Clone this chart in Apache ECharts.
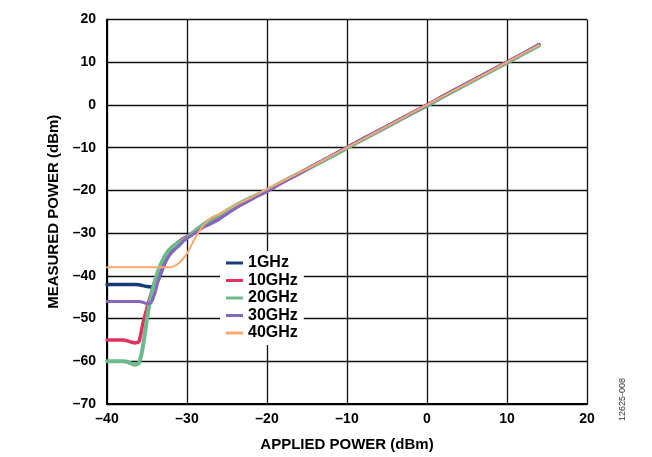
<!DOCTYPE html>
<html><head><meta charset="utf-8">
<script src="https://cdn.jsdelivr.net/npm/echarts@6/dist/echarts.min.js"></script>
<style>html,body{margin:0;padding:0;background:#fff}#c{width:652px;height:457px}</style>
</head><body><div id="c"></div>
<script>
const xVals = [-40,-39,-38,-37.5,-37,-36.5,-36,-35.5,-35,-34.5,-34,-33.5,-33,-32.5,-32,-31.5,-31,-30.5,-30,-29,-28,-27,-26,-25,-24,-23,-22,-21,-20,-18,-16,-14,-12,-10,-8,-6,-4,-2,0,2,4,6,8,10,12,14];
const ghz1  = [-42,-42,-42,-42,-42,-42,-42.1,-42.3,-42.5,-42.6,-42.2,-40.5,-38,-35.8,-34,-32.9,-32.1,-31.5,-31,-29.8,-28.5,-27.5,-26.5,-25.2,-24.1,-23,-22,-21,-20.1,-18,-16.1,-14,-12.1,-10,-7.9,-6.1,-4,-2,-0.1,2,4,6,8,10,12,14.1];
const ghz10 = [-55,-55,-55,-55.2,-55.5,-55.7,-55.4,-51,-47.5,-44.3,-41.2,-38.8,-36.6,-34.9,-33.6,-32.7,-32,-31.3,-30.8,-29.6,-28.3,-27.3,-26.4,-25.1,-24,-23,-22,-21,-20,-18,-16,-14,-12,-10,-8,-6,-4,-2,0,2,4,6,8,10,12,14];
const ghz20 = [-60,-60,-60,-60.1,-60.5,-60.8,-60.4,-56.5,-50,-44.8,-41.2,-38.3,-36.2,-34.6,-33.5,-32.8,-32.2,-31.6,-31,-29.5,-28,-26.8,-25.8,-24.7,-23.6,-22.6,-21.7,-20.8,-19.9,-17.9,-16,-14.1,-12.1,-10.1,-8.1,-6.1,-4.1,-2.1,-0.2,1.9,3.9,5.9,7.9,9.9,11.9,13.9];
const ghz30 = [-46,-46,-46,-46,-46,-46,-46,-46.2,-46.5,-46.3,-44,-40.5,-38,-36.1,-34.8,-33.8,-33,-32,-31.2,-30,-28.7,-27.8,-26.8,-25.5,-24.3,-23.2,-22.2,-21.2,-20.3,-18.1,-16.1,-14,-11.9,-9.9,-7.9,-5.9,-4,-2,0,2.1,4.1,6.1,8.1,10.1,12.1,14.2];
const ghz40 = [-38,-38,-38,-38,-38,-38,-38,-38,-38,-38,-38,-38,-38,-38,-38,-37.6,-37,-36,-34.8,-31.2,-28.3,-26.4,-25.6,-24.5,-23.5,-22.6,-21.7,-20.7,-19.7,-17.8,-15.9,-14,-12,-10,-8,-6,-4,-2,0,2,4,6,8,10,12,14];
const seriesNames = ['1GHz','10GHz','20GHz','30GHz','40GHz'];
const seriesData = [ghz1, ghz10, ghz20, ghz30, ghz40];
const colors = ['#173a7a','#e0325d','#6cbb8c','#8567bf','#f9a870'];
const widths = [3.5,3.5,4,3,2];

const font = '"Liberation Sans", Arial, sans-serif';
const dash = v => String(v).replace('-', '\u2013');
const chart = echarts.init(document.getElementById('c'));
chart.setOption({
  animation: false,
  grid: {left: 107, right: 65, top: 19.5, bottom: 52},
  legend: {
    orient: 'vertical', left: 220, top: 251,
    backgroundColor: '#fff', padding: [4, 6],
    icon: 'rect', itemWidth: 17, itemHeight: 3, itemGap: 1.5,
    textStyle: {fontFamily: font, fontWeight: 'bold', fontSize: 16, color: '#000', lineHeight: 14},
    data: seriesNames
  },
  xAxis: {
    type: 'value', min: -40, max: 20, interval: 10,
    name: 'APPLIED POWER (dBm)', nameLocation: 'middle', nameGap: 33,
    nameTextStyle: {fontFamily: font, fontWeight: 'bold', fontSize: 15, color: '#000'},
    axisLine: {show: true, onZero: false, lineStyle: {color: '#000', width: 2}},
    axisTick: {show: false},
    axisLabel: {fontFamily: font, fontWeight: 'bold', fontSize: 14, color: '#000', margin: 8, formatter: dash},
    splitLine: {show: true, lineStyle: {color: '#111', width: 1.3}}
  },
  yAxis: {
    type: 'value', min: -70, max: 20, interval: 10,
    name: 'MEASURED POWER (dBm)', nameLocation: 'middle', nameGap: 36,
    nameTextStyle: {fontFamily: font, fontWeight: 'bold', fontSize: 15, color: '#000'},
    axisLine: {show: true, onZero: false, lineStyle: {color: '#000', width: 2}},
    axisTick: {show: false},
    axisLabel: {fontFamily: font, fontWeight: 'bold', fontSize: 14, color: '#000', margin: 11, formatter: dash},
    splitLine: {show: true, lineStyle: {color: '#111', width: 1.3}}
  },
  graphic: [{
    type: 'text', left: 618, top: 378, rotation: Math.PI / 2,
    style: {text: '12625-008', fontFamily: font, fontSize: 9, fill: '#333'}
  }],
  series: seriesNames.map((n, i) => ({
    name: n, type: 'line', showSymbol: false, smooth: 0.2,
    color: colors[i],
    lineStyle: {width: widths[i], color: colors[i], cap: 'round', join: 'round'},
    data: xVals.map((x, j) => [x, seriesData[i][j]])
  }))
});
</script></body></html>
